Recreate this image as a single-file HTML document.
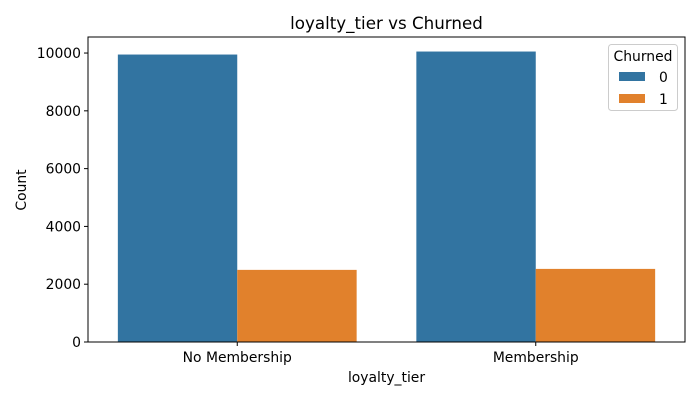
<!DOCTYPE html>
<html><head><meta charset="utf-8"><style>body{margin:0;background:#fff}svg{display:block;font-family:"DejaVu Sans","Liberation Sans",sans-serif}</style></head>
<body>
<svg id="chart" width="700" height="400" xmlns="http://www.w3.org/2000/svg">
<text x="386.5" y="29" font-size="16.7" text-anchor="middle">loyalty_tier vs Churned</text>
<g id="plot"></g>
<text x="386.5" y="382" font-size="13.9" text-anchor="middle">loyalty_tier</text>
<text transform="translate(26,190) rotate(-90)" font-size="13.9" text-anchor="middle">Count</text>
</svg>
<script>
const categories = ["No Membership", "Membership"];
const seriesNames = ["0", "1"];
const churned0 = [9948, 10052];
const churned1 = [2496, 2530];
const yTicks = [0, 2000, 4000, 6000, 8000, 10000];
const colors = ["#3274a1", "#e1812c"];
const L=88,R=685,T=37,B=342;
const ymax=10555;
const y=v=>B-(v/ymax)*(B-T);
const band=(R-L)/categories.length;
const xc=i=>L+band*(i+0.5);
const g=document.getElementById('plot');
const NS="http://www.w3.org/2000/svg";
function mk(t,a){const e=document.createElementNS(NS,t);for(const k in a)e.setAttribute(k,a[k]);g.appendChild(e);return e;}
const series=[churned0,churned1];
const bw=band*0.8/2;
series.forEach((s,si)=>s.forEach((v,i)=>{
 const r=mk('rect',{x:xc(i)-band*0.4+si*bw,y:y(v),width:bw,height:B-y(v),fill:colors[si]});
 
 
}));
yTicks.forEach(t=>{
 const l=mk('line',{x1:L-4,x2:L,y1:y(t),y2:y(t),stroke:'#000','stroke-width':1});
 
 
 const tx=mk('text',{x:L-7,y:y(t)+5,'font-size':13.9,'text-anchor':'end'});
 tx.textContent=t;
 
 
});
categories.forEach((c,i)=>{
 const l=mk('line',{x1:xc(i),x2:xc(i),y1:B,y2:B+4,stroke:'#000','stroke-width':1});
 
 
 const tx=mk('text',{x:xc(i),y:B+20,'font-size':13.9,'text-anchor':'middle'});
 tx.textContent=c;
 
 
});
const fr=mk('rect',{x:L,y:T,width:R-L,height:B-T,fill:'none',stroke:'#000','stroke-width':1});


const lg=mk('rect',{x:608.5,y:44.5,width:69,height:66,rx:3,fill:'#fff','fill-opacity':0.8,stroke:'#ccc'});


const lt=mk('text',{x:643,y:61,'font-size':13.9,'text-anchor':'middle'});
lt.textContent='Churned';


seriesNames.forEach((n,si)=>{
 const sw=mk('rect',{x:619,y:72+si*22,width:26,height:9,fill:colors[si]});
 
 
 const t=mk('text',{x:659,y:82+si*22,'font-size':13.9});
 t.textContent=n;
 
 
});
</script>
</body></html>
